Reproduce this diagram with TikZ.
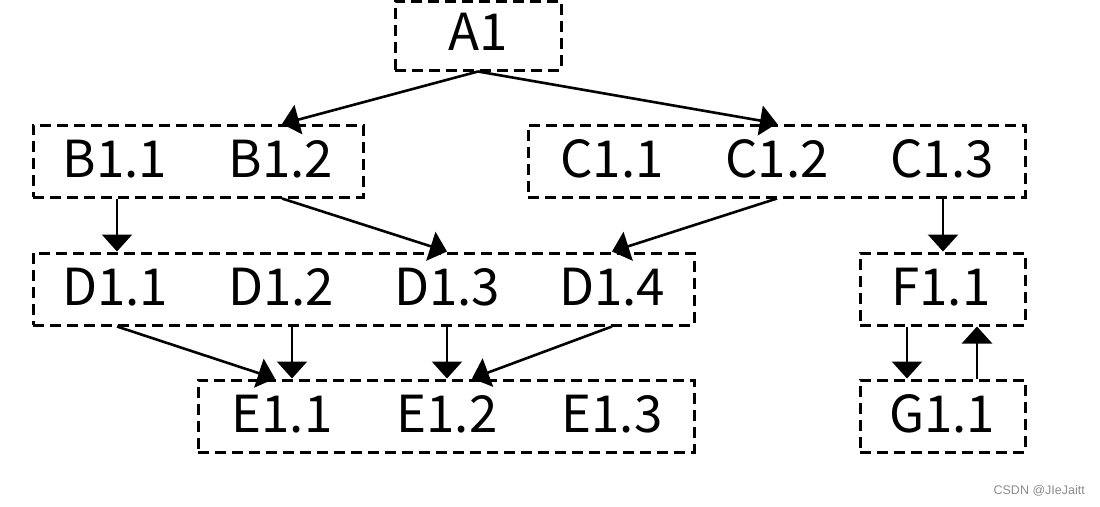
\documentclass[tikz,border=0pt]{standalone}
\usepackage{fontspec}
\newfontfamily\cjk{Noto Sans CJK SC}
\newfontfamily\wm{Liberation Sans}
\usetikzlibrary{arrows.meta,calc}
\begin{document}
\begin{tikzpicture}[x=1pt,y=-1pt,
 grp/.style={draw, line width=3pt, dash pattern=on 11pt off 6pt, inner sep=0pt},
 lbl/.style={font=\cjk\fontsize{51}{56}\selectfont, inner sep=0pt},
 arr/.style={line width=2.6pt, -{Triangle[length=17pt,width=30pt]}}]
\useasboundingbox (0,0) rectangle (1100,506);
% group boxes
\node[grp, minimum width=166pt, minimum height=69pt] (A) at (478,35.5) {};
\node[grp, minimum width=330pt, minimum height=72pt] (B) at (198,161) {};
\node[grp, minimum width=497pt, minimum height=72pt] (C) at (776.5,161) {};
\node[grp, minimum width=661pt, minimum height=72pt] (D) at (363.5,289) {};
\node[grp, minimum width=165pt, minimum height=72pt] (F) at (942.5,289) {};
\node[grp, minimum width=496pt, minimum height=72pt] (E) at (446,416) {};
\node[grp, minimum width=165pt, minimum height=72pt] (G) at (942.5,416) {};
% labels
\node[lbl] (a1) at (478,32) {A1};
\node[lbl] (b11) at (115,159) {B1.1};
\node[lbl] (b12) at (281,159) {B1.2};
\node[lbl] (c11) at (612,159) {C1.1};
\node[lbl] (c12) at (777,159) {C1.2};
\node[lbl] (c13) at (942,159) {C1.3};
\node[lbl] (d11) at (115,287) {D1.1};
\node[lbl] (d12) at (281,287) {D1.2};
\node[lbl] (d13) at (447,287) {D1.3};
\node[lbl] (d14) at (612,287) {D1.4};
\node[lbl] (f11) at (941,287) {F1.1};
\node[lbl] (e11) at (282,414) {E1.1};
\node[lbl] (e12) at (447,414) {E1.2};
\node[lbl] (e13) at (612,414) {E1.3};
\node[lbl] (g11) at (942,414) {G1.1};
% arrows
\draw[arr] (A.south) -- ($(b12 |- B.north)+(1,0.5)$);
\draw[arr] (A.south) -- (c12 |- C.north);
\draw[arr] ($(b11 |- B.south)+(2,0)$) -- ($(b11 |- D.north)+(2,0)$);
\draw[arr] ($(b12 |- B.south)+(1,0)$) -- (d13 |- D.north);
\draw[arr] (c12 |- C.south) -- (d14 |- D.north);
\draw[arr] ($(c13 |- C.south)+(1,0)$) -- ($(c13 |- F.north)+(1,0)$);
\draw[arr] ($(d11 |- D.south)+(2,0)$) -- ($(e11 |- E.north)+(-7,0)$);
\draw[arr] ($(e11 |- D.south)+(10,0)$) -- ($(e11 |- E.north)+(10,0)$);
\draw[arr] (d13 |- D.south) -- (e12 |- E.north);
\draw[arr] (d14 |- D.south) -- ($(e12 |- E.north)+(25,0)$);
\draw[arr] ($(g11 |- F.south)+(-35,0)$) -- ($(g11 |- G.north)+(-35,0)$);
\draw[arr] ($(g11 |- G.north)+(35,0)$) -- ($(g11 |- F.south)+(35,0)$);
% watermark
\node[font=\wm\fontsize{12.5}{14}\selectfont, text=black!45, anchor=east, inner sep=0pt] (wm) at (1085,491) {CSDN @JIeJaitt};
\end{tikzpicture}
\end{document}
